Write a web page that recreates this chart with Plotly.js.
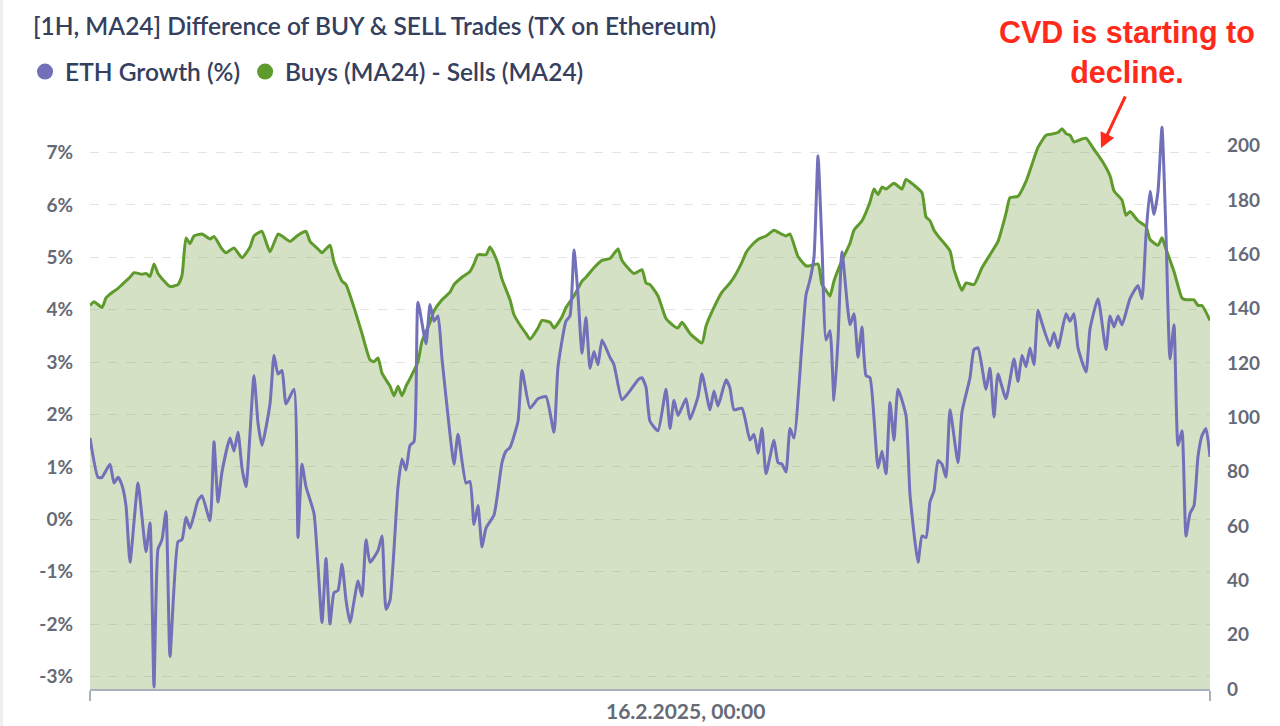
<!DOCTYPE html>
<html><head><meta charset="utf-8">
<script src="https://cdn.plot.ly/plotly-3.0.1.min.js"></script>
<style>html,body{margin:0;padding:0;background:#fff;} #chart{width:1280px;height:726px;} #edge{position:absolute;left:0;top:0;width:3px;height:726px;background:#efefef;}</style>
</head><body><div id="chart"></div><div id="edge"></div>
<script>
// Hourly series, hour offsets from the first sample
const startTime = '2025-02-09T19:15:00Z';
const endHour = 280;

const ethHours = [0,2,3,5,6,7,8,9,10,12,13,14,15,16,17,18,19,20,22,23,
 24,25,26,27,28,30,31,32,33,35,36,37,38,39,41,42,43,45,46,47,
 48,49,51,52,53,54,56,58,59,60,61,62,63,64,65,67,68,69,70,72,
 73,74,75,77,78,79,80,81,82,84,85,86,87,88,90,91,92,94,95,96,
 97,98,99,101,103,104,105,107,108,110,112,114,116,117,119,120,121,122,123,124,
 125,126,127,128,130,131,133,135,137,138,139,140,142,144,145,146,147,149,150,152,
 153,155,156,157,159,160,161,163,165,166,167,168,169,171,172,173,174,175,176,178,
 179,180,181,182,183,184,185,186,187,188,190,191,192,193,194,195,197,198,199,200,
 201,202,204,205,207,208,209,210,211,212,213,214,215,217,218,220,221,222,224,225,
 226,227,229,231,232,233,234,235,236,237,238,240,241,242,244,245,246,247,249,250,
 252,254,255,256,257,258,260,262,263,264,265,266,267,268,269,270,271,272,273,274,
 275,276,277,278,279,280];
const ethGrowth = [1.55,0.8,0.8,1.05,0.69,0.8,0.65,0.26,-0.82,0.69,0.04,-0.62,-0.07,-3.2,-0.57,-0.39,0.15,-2.62,-0.43,-0.39,
 0.04,-0.17,0.08,0.36,0.45,-0.03,1.48,0.33,0.9,1.55,1.3,1.66,0.98,0.62,2.74,1.84,1.41,2.2,3.13,2.77,
 2.84,2.2,2.48,-0.35,1.05,0.62,0.11,-1.97,-0.75,-2.0,-1.4,-1.36,-0.86,-1.54,-1.97,-1.18,-1.47,-0.39,-0.82,-0.6,
 -0.32,-1.72,-1.55,0.62,1.15,0.94,1.41,1.48,4.14,3.35,4.1,3.78,3.88,3.06,1.62,1.05,1.62,0.69,0.72,-0.1,
 0.26,-0.53,-0.17,0.08,1.08,1.3,1.37,1.87,2.84,2.12,2.3,2.34,1.66,2.91,3.78,3.88,5.14,4.28,3.17,3.85,
 2.88,3.2,2.95,3.42,3.09,2.95,2.28,2.45,2.66,2.7,2.52,1.87,1.69,2.48,1.73,2.27,1.98,2.3,1.91,2.34,
 2.77,2.09,2.45,2.16,2.66,2.5,2.09,2.12,1.51,1.62,1.26,1.73,0.87,1.51,1.08,1.05,0.9,1.73,1.55,3.35,
 4.28,4.57,5.0,6.94,5.21,3.42,3.6,2.27,3.42,5.1,3.71,3.92,3.09,3.67,2.74,2.7,0.98,1.3,0.87,2.23,
 1.51,2.48,1.98,0.47,-0.82,-0.32,-0.35,0.33,0.54,1.12,1.05,0.8,2.09,1.08,2.05,2.7,3.24,3.27,2.48,2.88,
 1.95,2.77,2.3,3.06,2.63,3.13,2.91,3.27,2.95,3.99,3.74,3.31,3.56,3.27,3.92,3.78,3.92,3.27,2.81,3.63,
 4.21,3.24,3.88,3.67,3.88,3.71,4.21,4.46,4.21,5.43,6.26,5.82,6.26,7.48,5.43,3.06,3.71,1.41,1.69,-0.32,
 0.11,0.26,1.2,1.6,1.73,1.19];

const cvdHours = [0,1,3,4,5,7,8,10,11,13,14,15,16,17,19,20,22,23,24,25,
 26,28,30,31,33,34,36,38,40,41,42,43,45,47,48,50,52,54,55,57,
 58,60,61,63,64,66,68,70,71,72,73,75,76,77,78,79,80,82,83,85,
 86,88,90,91,93,95,96,97,99,100,101,102,103,105,106,108,109,110,112,113,
 115,116,118,119,121,123,124,126,128,130,132,133,136,138,139,140,142,143,144,146,
 147,148,150,151,153,154,156,158,160,161,163,164,165,167,169,171,172,174,175,177,
 179,180,182,183,184,185,186,188,190,191,193,195,196,197,198,199,201,203,204,206,
 208,209,210,211,212,215,216,218,219,221,223,225,227,229,230,232,234,235,237,239,
 240,242,243,244,245,246,248,249,251,253,255,256,258,259,260,262,264,265,267,268,
 269,271,273,274,276,277,278,280];
const cvdDiff = [141.2,142.6,140.5,144,145.4,147.5,148.9,151.6,153.3,152.7,153,151.9,156.5,153,149.5,148.2,148.9,152.3,166.1,164,
 166.8,167.5,165.7,166.6,162,160.6,162.4,158.8,162.7,166.8,167.9,168.5,161,167.5,166.8,164.8,167.1,168.5,164.8,162,
 160.6,163.4,157.2,150.2,148.9,140.5,130.9,121.2,120.5,121.9,116.3,111.5,108,111.5,108,111.5,114.3,120.5,128.1,135,
 139.2,143.3,146.1,148.9,151.6,153.7,156.5,159.9,159.9,162.7,160.2,156.5,150.9,143.3,137.8,132.9,130.9,128.8,132.9,135.7,
 135,132.9,137.1,140.5,144.7,150.2,151.6,155.1,157.8,158.5,162,157.8,153,154.4,149.5,148.9,144.7,140.5,136.4,133.6,
 132.9,135,130.9,129.5,127.4,133.6,140.5,146.1,149.5,151.6,157.2,160.6,162.7,165.5,166.8,168.9,168.2,166.8,167.5,159.2,
 155.8,155.8,156.5,148.9,146.8,144.7,150.2,157.8,164.1,168.9,172.4,179.3,184.1,182.1,184.8,184.1,186.2,184.1,187.6,185.5,
 182.7,173.8,172.4,168.9,166.8,161.3,154.4,146.8,149.5,148.9,155.1,159.9,164.8,175.1,180.9,181.4,186.9,191,199.4,203.9,
 204.2,204.9,206.3,204.5,203.9,201.4,202.5,202.8,198.7,194.5,189,183.4,180,174.4,175.8,172.4,170.3,165.5,163.4,166.1,
 162,153.7,144,143.3,143.3,141.2,141.2,135.7];

const leftTickVals = [-3,-2,-1,0,1,2,3,4,5,6,7];
const leftTickText = ['-3%','-2%','-1%','0%','1%','2%','3%','4%','5%','6%','7%'];
const rightTickVals = [0,20,40,60,80,100,120,140,160,180,200];
const xTickTime = '2025-02-16 00:00:00';
const xTickLabel = '16.2.2025, 00:00';
const seriesNames = ['ETH Growth (%)', 'Buys (MA24) - Sells (MA24)'];
const titleText = '[1H, MA24] Difference of BUY & SELL Trades (TX on Ethereum)';
const noteText = 'CVD is starting to<br>decline.';

const t0 = Date.parse(startTime);
function toTime(h){ return new Date(t0 + h*3600000).toISOString().slice(0,19).replace('T',' '); }

const purple = '#7170b8';
const green = '#5e9a2c';
const textCol = '#34405e';
const tickCol = '#666a76';

const traces = [
  {x:[null], y:[null], mode:'markers', name:seriesNames[0], legendgroup:'a', marker:{size:20, color:purple}, hoverinfo:'skip'},
  {x:[null], y:[null], mode:'markers', name:seriesNames[1], legendgroup:'b', marker:{size:20, color:green}, hoverinfo:'skip'},
  {x: cvdHours.map(toTime), y: cvdDiff, yaxis:'y', type:'scatter', mode:'lines',
   line:{color:green, width:3, shape:'spline', smoothing:0.5}, fill:'tozeroy', fillcolor:'rgba(112,155,62,0.3)', showlegend:false},
  {x: ethHours.map(toTime), y: ethGrowth, yaxis:'y2', type:'scatter', mode:'lines',
   line:{color:purple, width:3, shape:'spline', smoothing:0.5}, showlegend:false}
];

const tickFont = {family:'Lato', size:19, color:tickCol, weight:700};

const layout = {
  width:1280, height:726,
  margin:{l:90, r:70, t:120, b:37},
  paper_bgcolor:'#ffffff', plot_bgcolor:'#ffffff',
  font:{family:'Lato', color:textCol},
  title:{text:titleText, x:33/1280, xref:'container', xanchor:'left', y:1-26/726, yref:'container', yanchor:'middle',
    font:{family:'Lato', size:24.5, color:textCol, weight:600}},
  showlegend:true,
  legend:{orientation:'h', x:-0.058, xanchor:'left', y:1.085, yanchor:'middle', tracegroupgap:12,
    font:{family:'Lato', size:24.5, color:textCol, weight:600}, itemwidth:30,
    bgcolor:'rgba(0,0,0,0)'},
  xaxis:{type:'date', range:[toTime(0), toTime(endHour)], tickvals:[toTime(0), toTime(endHour)], ticktext:['',''],
    ticks:'outside', ticklen:10, tickwidth:2, tickcolor:'#a7b1bd', showline:true, linecolor:'#a7b1bd', linewidth:2,
    showgrid:false, zeroline:false, fixedrange:true},
  yaxis:{side:'right', range:[0,209.5], tickvals:rightTickVals, showgrid:false, zeroline:false, ticks:'',
    tickfont:tickFont, ticklabelstandoff:16, showline:false},
  yaxis2:{side:'left', overlaying:'y', range:[-3.24,7.62], tickvals:leftTickVals, ticktext:leftTickText,
    showgrid:true, gridcolor:'#e4e4e4', griddash:'dash', gridwidth:1, zeroline:false, ticks:'',
    tickfont:tickFont, ticklabelstandoff:16, showline:false},
  annotations:[
    {x:xTickTime, xref:'x', y:0, yref:'paper', yanchor:'top', yshift:-7, showarrow:false, text:xTickLabel,
     font:{family:'Lato', size:21, color:tickCol, weight:700}},
    {x:(1127-90)/1120, xref:'paper', y:(689-52)/569, yref:'paper', xanchor:'center', yanchor:'middle', showarrow:false,
     text:noteText, font:{family:'Liberation Sans', size:30.5, color:'#ff2a1a', weight:700}},
    {x:(1101-90)/1120, xref:'paper', y:(689-148)/569, yref:'paper', text:'', showarrow:true, arrowhead:2, arrowsize:1,
     arrowwidth:3, arrowcolor:'#ff2a1a', ax:25, ay:-53}
  ]
};

Plotly.newPlot('chart', traces, layout, {displayModeBar:false, staticPlot:true});
</script>
</body></html>
